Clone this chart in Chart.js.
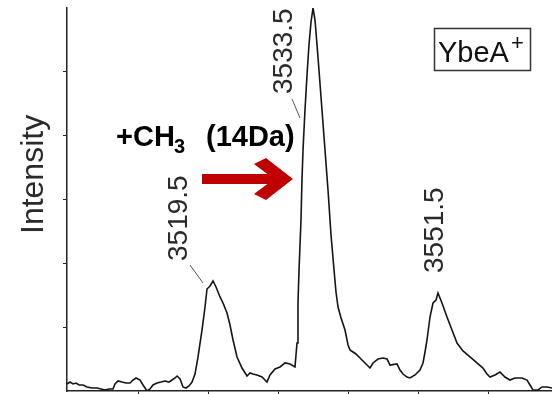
<!DOCTYPE html>
<html>
<head>
<meta charset="utf-8">
<script src="https://cdn.jsdelivr.net/npm/chart.js@4/dist/chart.umd.min.js"></script>
<style>
  html, body { margin: 0; padding: 0; background: #fff; }
  #wrap { width: 552px; height: 394px; }
</style>
</head>
<body>
<div id="wrap"><canvas id="c" width="552" height="394"></canvas></div>
<script>
// m/z values (Da) along the trace
const masses = [3498.64,3499.07,3499.5,3499.93,3500.36,3500.93,3501.5,3502.21,3502.93,3503.5,3504.07,3504.64,3505.21,3505.5,3505.93,3506.5,3507.07,3507.64,3508.07,3508.5,3509.07,3509.5,3510.07,3510.5,3510.93,3511.5,3512.07,3512.64,3513.21,3513.64,3514.07,3514.36,3514.79,3515.21,3515.64,3516.07,3516.5,3516.93,3517.36,3517.93,3518.36,3518.64,3519.07,3519.5,3519.93,3520.5,3520.93,3521.5,3521.93,3522.36,3522.93,3523.64,3524.36,3524.79,3525.21,3525.79,3526.5,3527.21,3527.64,3528.36,3529.07,3529.79,3530.5,3531.21,3531.5,3531.64,3531.79,3532.07,3532.21,3532.36,3532.64,3532.93,3533.21,3533.5,3533.79,3534.07,3534.36,3534.64,3535.07,3535.5,3535.93,3536.36,3536.79,3537.07,3537.36,3537.79,3538.36,3538.79,3539.07,3539.5,3539.93,3540.5,3541.21,3541.93,3542.36,3543.07,3543.79,3544.36,3544.79,3545.79,3546.21,3546.64,3547.21,3547.64,3548.36,3549.07,3549.5,3549.79,3550.07,3550.5,3550.93,3551.36,3551.64,3552.21,3552.93,3553.64,3554.36,3555.21,3556.21,3557.21,3558.07,3558.64,3559.07,3559.79,3560.5,3561.21,3561.93,3562.64,3563.64,3564.36,3564.79,3565.21,3565.93,3566.5,3567.21,3567.93];
// intensity (arbitrary units, one unit per y tick)
const intensity = [0.11,0.14,0.11,0.125,0.094,0.094,0.063,0.047,0.047,0.031,0.016,0.031,0.031,0.11,0.157,0.14,0.125,0.125,0.172,0.204,0.172,0.094,0,0.031,0.094,0.125,0.14,0.157,0.14,0.172,0.204,0.235,0.188,0.063,0.047,0.078,0.14,0.266,0.533,0.956,1.316,1.598,1.645,1.723,1.629,1.473,1.379,1.222,1.034,0.799,0.533,0.36,0.235,0.282,0.266,0.251,0.219,0.14,0.251,0.345,0.376,0.439,0.423,0.376,0.752,1.379,1.896,2.679,3.306,3.776,4.402,4.951,5.421,5.781,6.0,5.812,5.421,5.029,4.402,3.776,3.149,2.444,1.896,1.551,1.316,1.144,0.956,0.721,0.642,0.611,0.58,0.517,0.439,0.36,0.439,0.501,0.517,0.501,0.407,0.423,0.329,0.266,0.219,0.204,0.251,0.329,0.439,0.611,0.799,1.159,1.379,1.426,1.535,1.379,1.159,0.956,0.752,0.627,0.533,0.439,0.36,0.266,0.219,0.251,0.298,0.219,0.172,0.204,0.204,0.172,0.094,0.016,0.016,0.063,0.063,0.047];
const xTicks = [3508.8, 3518.8, 3528.9, 3538.9, 3548.8, 3558.8];
const yTicks = [1, 2, 3, 4, 5];
const peakLabels = ["3519.5", "3533.5", "3551.5"];
const yLabel = "Intensity";
const boxLabel = "YbeA";
const shiftLabel = ["+CH", "3", "(14Da)"];

const overlay = {
  id: 'overlay',
  afterDraw(chart) {
    const ctx = chart.ctx;
    ctx.save();
    // y axis title
    ctx.fillStyle = '#2a2a2a';
    ctx.font = '32px "Liberation Sans", Arial, sans-serif';
    ctx.textAlign = 'left';
    ctx.textBaseline = 'alphabetic';
    ctx.save(); ctx.translate(43, 234); ctx.rotate(-Math.PI / 2); ctx.fillText(yLabel, 0, 0); ctx.restore();

    // peak labels
    ctx.font = '28px "Liberation Sans", Arial, sans-serif';
    const pl = [[187, 261], [292, 94], [443, 273]];
    peakLabels.forEach((t, i) => {
      ctx.save(); ctx.translate(pl[i][0], pl[i][1]); ctx.rotate(-Math.PI / 2); ctx.fillText(t, 0, 0); ctx.restore();
    });
    // leader lines
    ctx.strokeStyle = '#555';
    ctx.lineWidth = 1;
    ctx.beginPath();
    ctx.moveTo(190, 265); ctx.lineTo(203, 283);
    ctx.moveTo(292, 99); ctx.lineTo(300, 118);
    ctx.stroke();

    // +CH3 (14Da)
    ctx.fillStyle = '#000';
    ctx.font = 'bold 29px "Liberation Sans", Arial, sans-serif';
    ctx.fillText(shiftLabel[0], 116, 146);
    ctx.font = 'bold 20px "Liberation Sans", Arial, sans-serif';
    ctx.fillText(shiftLabel[1], 174, 153);
    ctx.font = 'bold 29px "Liberation Sans", Arial, sans-serif';
    ctx.fillText(shiftLabel[2], 206, 146);

    // red arrow
    ctx.fillStyle = '#c00000';
    ctx.fillRect(202, 174, 76, 10);
    ctx.beginPath();
    ctx.moveTo(254, 164);
    ctx.lineTo(266, 158);
    ctx.lineTo(293, 179);
    ctx.lineTo(266, 200);
    ctx.lineTo(254, 194);
    ctx.lineTo(274, 179);
    ctx.closePath();
    ctx.fill();

    // YbeA+ box
    ctx.strokeStyle = '#333';
    ctx.lineWidth = 1.5;
    ctx.strokeRect(434.5, 28.5, 96, 42);
    ctx.fillStyle = '#111';
    ctx.font = '29px "Liberation Sans", Arial, sans-serif';
    ctx.fillText(boxLabel, 438, 62);
    ctx.font = '22px "Liberation Sans", Arial, sans-serif';
    ctx.fillText('+', 511, 50);
    ctx.restore();
  }
};

new Chart(document.getElementById('c'), {
  type: 'line',
  data: {
    datasets: [{
      data: masses.map((m, i) => ({ x: m, y: intensity[i] })),
      borderColor: '#151515',
      borderWidth: 1.6,
      pointRadius: 0,
      tension: 0,
      fill: false
    }]
  },
  options: {
    responsive: false,
    animation: false,
    events: [],
    layout: { padding: { left: 63, top: 8, right: 0, bottom: 0 } },
    plugins: { legend: { display: false }, tooltip: { enabled: false } },
    scales: {
      x: {
        type: 'linear',
        min: 3498.64,
        max: 3567.93,
        afterBuildTicks: s => { s.ticks = xTicks.map(v => ({ value: v })); },
        ticks: { display: false },
        grid: { drawOnChartArea: false, drawTicks: true, tickLength: 3, color: '#222', lineWidth: 1 },
        border: { display: true, color: '#222', width: 1.5 }
      },
      y: {
        min: 0,
        max: 6,
        afterBuildTicks: s => { s.ticks = yTicks.map(v => ({ value: v })); },
        ticks: { display: false },
        grid: { drawOnChartArea: false, drawTicks: true, tickLength: 4, color: '#222', lineWidth: 1 },
        border: { display: true, color: '#222', width: 1.5 }
      }
    }
  },
  plugins: [overlay]
});
</script>
</body>
</html>
